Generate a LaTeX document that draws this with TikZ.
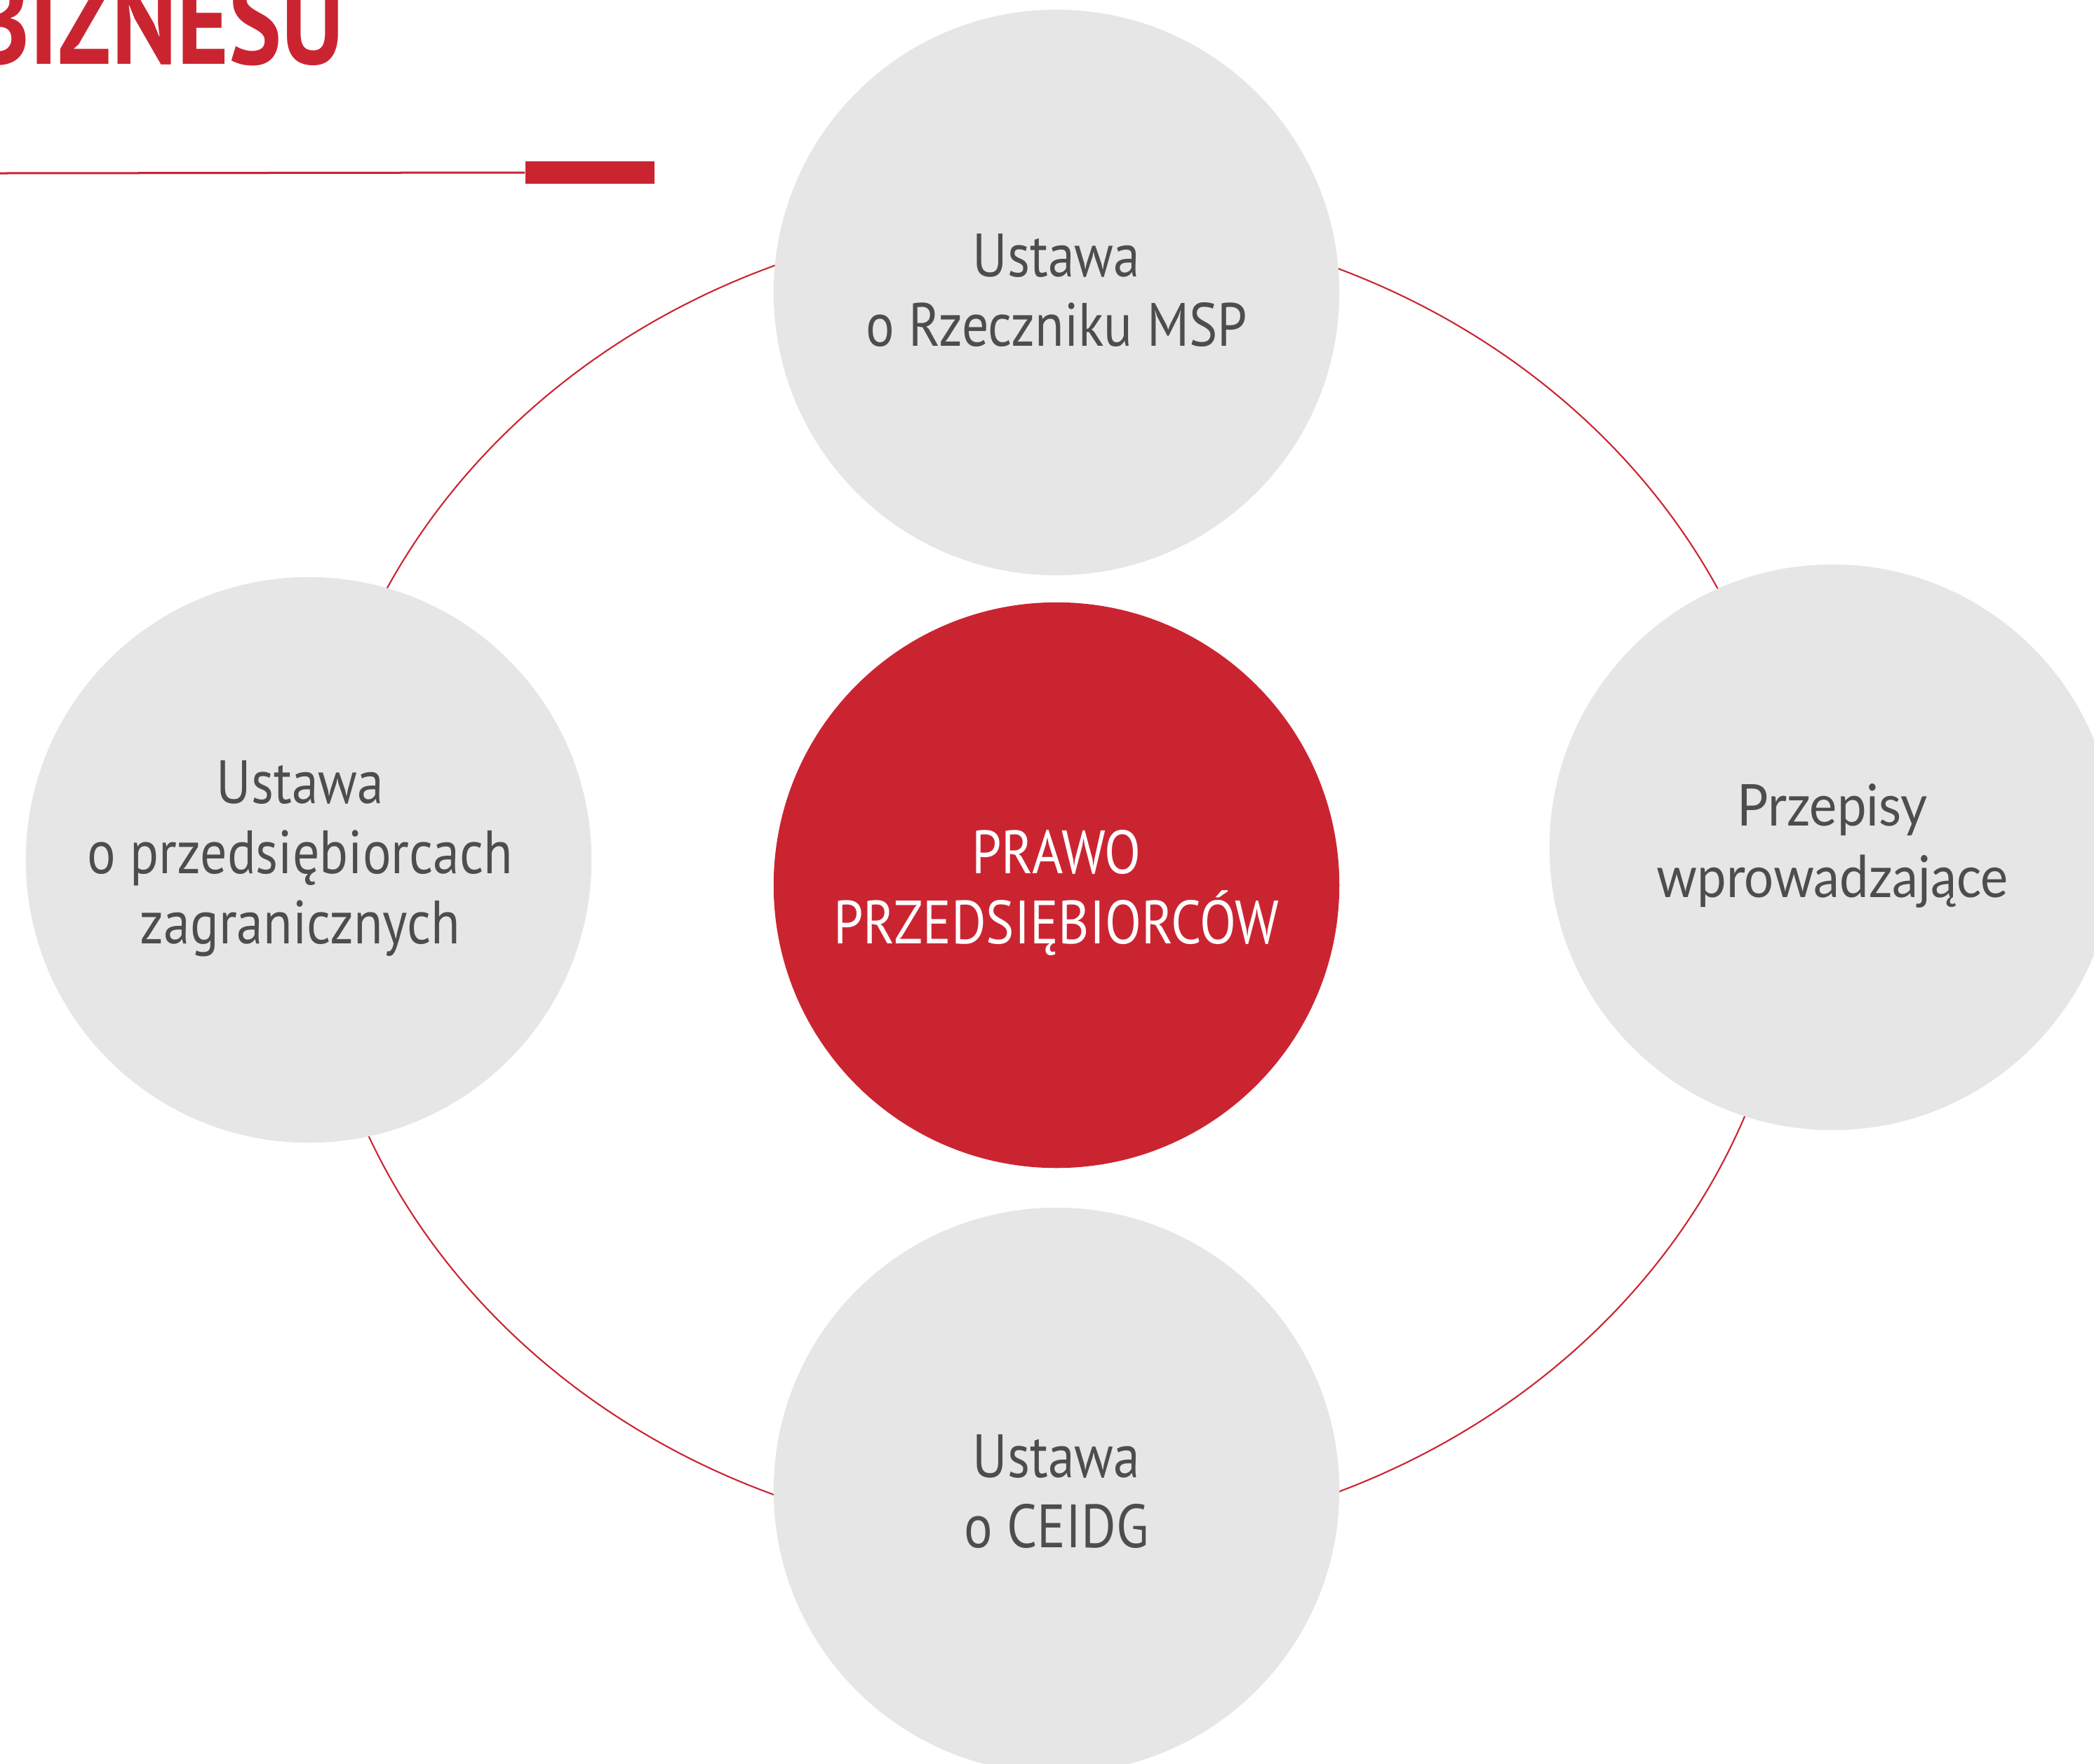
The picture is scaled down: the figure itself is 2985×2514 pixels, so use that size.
\documentclass[tikz,border=0pt]{standalone}
\usepackage{fontspec}
\setmainfont{PT Sans}[FakeStretch=0.87]
\newfontfamily\rightfont{Lato}[FakeStretch=0.9]
\newfontfamily\titlefont{PT Sans}
\usetikzlibrary{calc}
\definecolor{brandred}{RGB}{203,36,49}
\definecolor{circlegray}{RGB}{230,230,230}
\definecolor{textgray}{RGB}{77,77,77}
\tikzset{
  bubble/.style={circle, fill=circlegray, minimum size=8.06cm, inner sep=0pt},
  core/.style={circle, fill=brandred, minimum size=8.06cm, inner sep=0pt},
  lbl/.style={anchor=base, text=textgray, font=\fontsize{24.8}{28}\selectfont, inner sep=0pt},
  corelbl/.style={lbl, text=white},
  rlbl/.style={anchor=base, text=textgray, font=\rightfont\fontsize{23.4}{28}\selectfont, inner sep=0pt},
  ring/.style={draw=brandred, line width=0.6pt},
}
\begin{document}
\begin{tikzpicture}[x=0.01cm, y=-0.01cm]
\useasboundingbox (0,0) rectangle (2985,2514);
\clip (0,0) rectangle (2985,2514);
% title
\node[anchor=base east, inner sep=0pt, text=brandred] (title) at (491,91)
  {\resizebox{5.31cm}{1.25cm}{\titlefont\bfseries BIZNESU}};
\coordinate (ruleL) at (0,247);
\node[fill=brandred, minimum width=1.84cm, minimum height=0.32cm, inner sep=0pt, anchor=west] (bar) at (748,246) {};
\draw[brandred, line width=0.03cm] (ruleL) -- (bar.west);
% ring
\coordinate (ringC) at (1500,1255);
\draw[ring] (ringC) ellipse [x radius=1056, y radius=945];
% circles
\node[bubble] (top) at (1506,417) {};
\node[bubble] (left) at (440,1226) {};
\node[bubble] (right) at (2612,1208) {};
\node[bubble] (bottom) at (1506,2125) {};
\node[core] (center) at (1506,1262) {};
% labels
\node[lbl] (top1) at ($(top)+(0,-23)$) {Ustawa};
\node[lbl] (top2) at ($(top)+(0,76)$) {o Rzeczniku MSP};
\node[corelbl] (c1) at ($(center)+(0,-17)$) {PRAWO};
\node[corelbl] (c2) at ($(center)+(0,83)$) {PRZEDSIĘBIORCÓW};
\node[lbl] (l1) at ($(left)+(-12,-81)$) {Ustawa};
\node[lbl] (l2) at ($(left)+(-12,19)$) {o przedsiębiorcach};
\node[lbl] (l3) at ($(left)+(-12,119)$) {zagranicznych};
\node[rlbl] (r1) at ($(right)+(0,-31)$) {Przepisy};
\node[rlbl] (r2) at ($(right)+(0,71)$) {wprowadzające};
\node[lbl] (b1) at ($(bottom)+(0,-19)$) {Ustawa};
\node[lbl] (b2) at ($(bottom)+(0,81)$) {o CEIDG};
\end{tikzpicture}
\end{document}
